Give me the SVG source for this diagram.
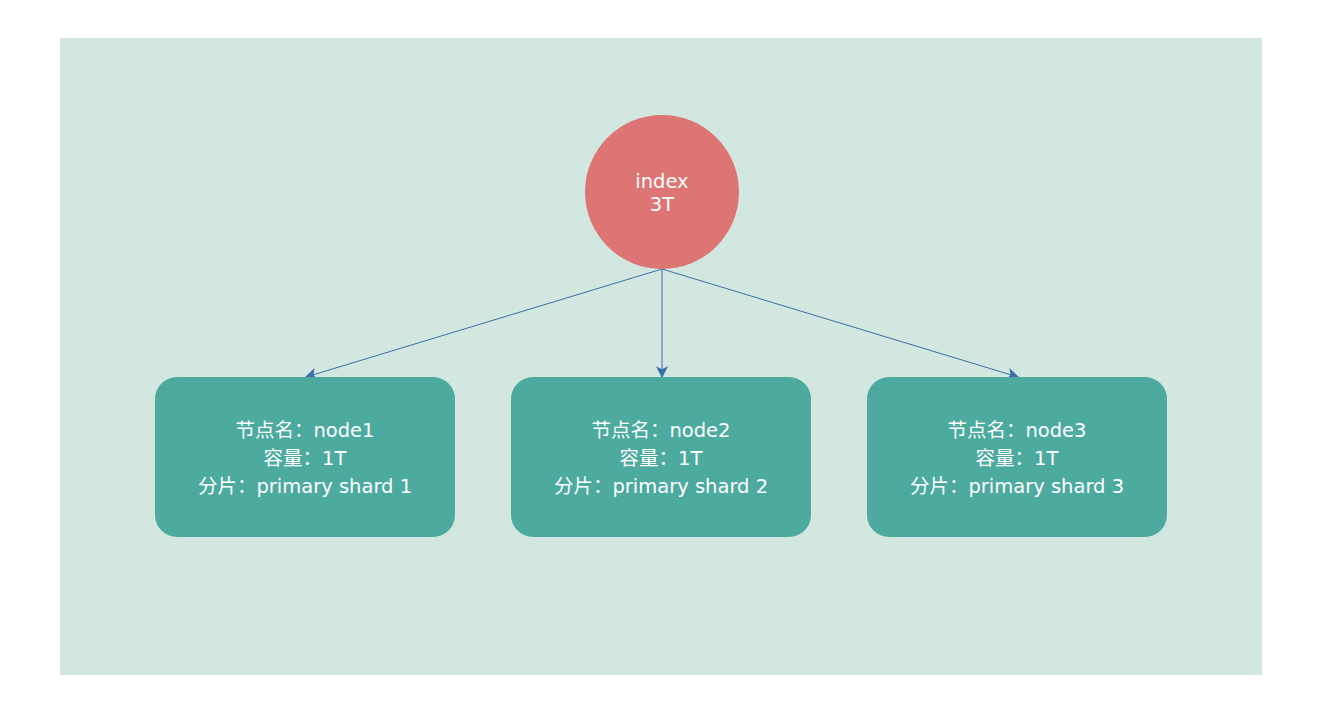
<svg xmlns="http://www.w3.org/2000/svg" width="1324" height="708" viewBox="0 0 1324 708">
<style>
.t{font-family:"DejaVu Sans","Noto Sans CJK SC",sans-serif;font-size:19.5px;fill:#ffffff;text-anchor:middle}
.box{fill:#4caa9e}
.edge{stroke:#3b6ea8;stroke-width:1;fill:none}
</style>
<defs>
<marker id="arr" viewBox="0 0 10 10" refX="9" refY="5" markerWidth="12" markerHeight="12" markerUnits="userSpaceOnUse" orient="auto">
<path d="M0,0 L10,5 L0,10 L2.5,5 Z" fill="#3b6ea8"/>
</marker>
</defs>
<rect x="0" y="0" width="1324" height="708" fill="#ffffff"/>
<rect x="60" y="38" width="1202" height="637" fill="#d2e7df"/>
<g id="connectors">
<line class="edge" x1="662" y1="269" x2="306" y2="377" marker-end="url(#arr)"/>
<line class="edge" x1="662" y1="269" x2="662" y2="377" marker-end="url(#arr)"/>
<line class="edge" x1="662" y1="269" x2="1018" y2="377" marker-end="url(#arr)"/>
</g>
<g id="index">
<circle cx="662" cy="192" r="77" fill="#dd7574"/>
<text class="t" x="662" y="188">index</text>
<text class="t" x="662" y="211">3T</text>
</g>
<g id="node1">
<rect class="box" x="155" y="377" width="300" height="160" rx="22"/>
<text class="t" x="305" y="437">节点名：node1</text>
<text class="t" x="305" y="465">容量：1T</text>
<text class="t" x="305" y="493">分片：primary shard 1</text>
</g>
<g id="node2">
<rect class="box" x="511" y="377" width="300" height="160" rx="22"/>
<text class="t" x="661" y="437">节点名：node2</text>
<text class="t" x="661" y="465">容量：1T</text>
<text class="t" x="661" y="493">分片：primary shard 2</text>
</g>
<g id="node3">
<rect class="box" x="867" y="377" width="300" height="160" rx="22"/>
<text class="t" x="1017" y="437">节点名：node3</text>
<text class="t" x="1017" y="465">容量：1T</text>
<text class="t" x="1017" y="493">分片：primary shard 3</text>
</g>
</svg>
